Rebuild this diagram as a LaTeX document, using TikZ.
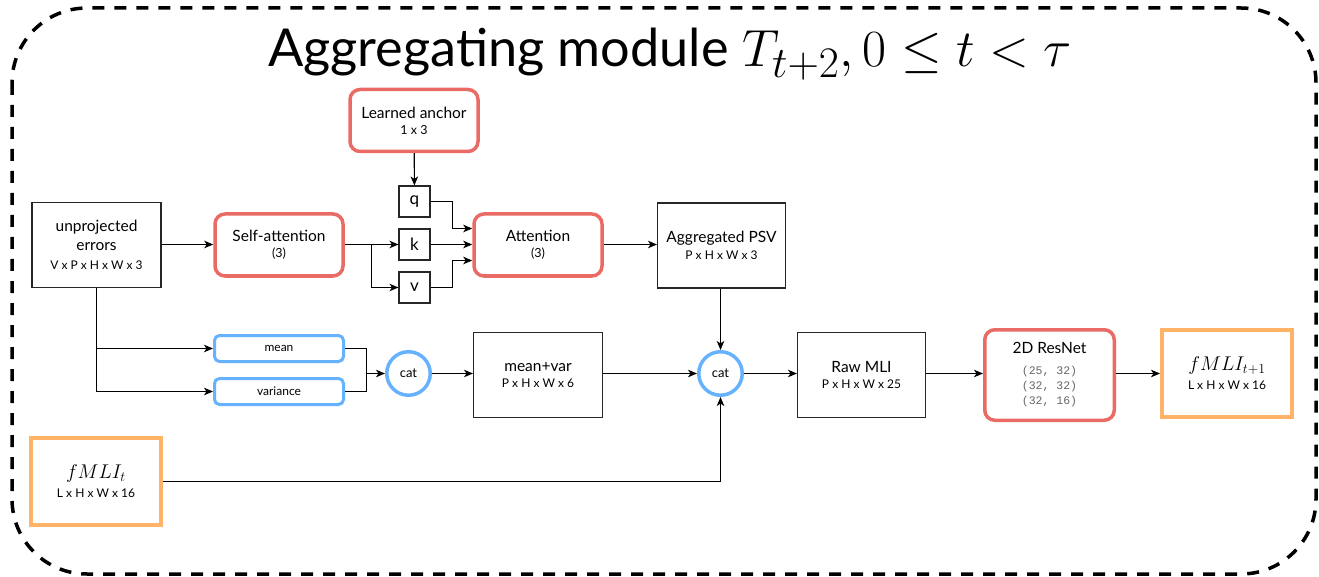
\documentclass[tikz,border=0pt]{standalone}
\usepackage{graphicx}
\usepackage{fontspec}
\setmainfont{Lato}
\setmonofont{Liberation Mono}
\usetikzlibrary{arrows.meta,calc}
\definecolor{redc}{HTML}{EA6B66}
\definecolor{bluec}{HTML}{66B2FF}
\definecolor{orangec}{HTML}{FFB366}
\definecolor{monoc}{HTML}{666666}
\newcommand\fsz[2]{\fontsize{#1}{#2}\selectfont}
\newcommand\smalldim[1]{{\fsz{12}{14}#1}}
\newcommand\tinydim[1]{{\fsz{12.5}{14}#1}}
\newcommand\monoline[1]{{\color{monoc}\ttfamily\fsz{11.5}{15}#1}}
\newcommand\bigmath[1]{\scalebox{1.15}{$#1$}}
\tikzset{
  plainbox/.style={draw=black!85, line width=1.1pt, inner sep=0pt, align=center, fill=white, font=\fsz{15.5}{18.5}},
  redbox/.style={draw=redc, line width=3.5pt, rounded corners=10pt, inner sep=0pt, align=center, minimum width=128pt, minimum height=62pt, font=\fsz{15.5}{16}},
  bluebox/.style={draw=bluec, line width=3pt, rounded corners=5pt, inner sep=0pt, minimum width=129pt, minimum height=26pt, font=\fsz{12}{14}},
  catnode/.style={draw=bluec, line width=3.5pt, circle, inner sep=0pt, minimum size=43.5pt, font=\fsz{13}{15}},
  orangebox/.style={draw=orangec, line width=4pt, inner sep=0pt, align=center, minimum width=130pt, minimum height=87pt, font=\fsz{17.28}{19}},
  letterbox/.style={draw=black!85, line width=1.1pt, inner sep=0pt, minimum size=31pt, font=\fsz{17}{20}},
  arr/.style={-{Stealth[length=9pt,width=7.5pt,inset=2.5pt]}, line width=1.1pt},
  conn/.style={line width=1.1pt},
  border/.style={draw=black, line width=3.5pt, dash pattern=on 12pt off 10pt, rounded corners=75pt}
}
\begin{document}
\begin{tikzpicture}[x=1pt,y=-1pt]
\useasboundingbox (0,0) rectangle (1319,577);
\draw[border] (12,8) rectangle (1316,574);

\node[anchor=base, font=\fsz{24.88}{30}, scale=2.1] (title) at (670,67) {Aggregating module $T_{t+2}, 0 \le t < \tau$};

\node[plainbox, minimum width=129pt, minimum height=85pt] (unp) at (96.5,245) {unprojected\\errors\\[1pt]\smalldim{V x P x H x W x 3}};
\node[redbox] (sa) at (279,245) {Self-attention\\\tinydim{(3)}};
\node[redbox] (anc) at (414,120.5) {Learned anchor\\\tinydim{1 x 3}};
\node[letterbox] (q) at (414.5,201.5) {q};
\node[letterbox] (k) at (414.5,244.5) {k};
\node[letterbox] (v) at (414.5,287.5) {v};
\node[redbox] (attn) at (538,245) {Attention\\\tinydim{(3)}};
\node[plainbox, font=\fsz{15.5}{16.5}, minimum width=128pt, minimum height=85pt] (psv) at (721.5,245.5) {Aggregated PSV\\\smalldim{P x H x W x 3}};

\node[bluebox] (mean) at (279,348.5) {mean};
\node[bluebox] (var) at (279,391.5) {variance};
\node[catnode] (cat1) at (408.5,373.5) {cat};
\node[plainbox, font=\fsz{15.5}{16.5}, minimum width=129pt, minimum height=85pt] (mv) at (538,375) {mean+var\\\smalldim{P x H x W x 6}};
\node[catnode] (cat2) at (720.5,373.5) {cat};
\node[plainbox, font=\fsz{15.5}{16.5}, minimum width=128pt, minimum height=85pt] (raw) at (861.5,375) {Raw MLI\\\smalldim{P x H x W x 25}};
\node[redbox, font=\fsz{15.5}{15}, minimum width=129.5pt, minimum height=90.5pt] (res) at (1049.5,375) {2D ResNet\\[6pt]\monoline{(25, 32)}\\\monoline{(32, 32)}\\\monoline{(32, 16)}};
\node[orangebox] (f1) at (1227,373.5) {\bigmath{fMLI_{t+1}}\\\smalldim{L x H x W x 16}};
\node[orangebox] (f0) at (96,481.5) {\bigmath{fMLI_{t}}\\\smalldim{L x H x W x 16}};

% connectors
\draw[arr] (unp.east |- k.west) -- (sa.west |- k.west);
\draw[arr] (sa.east |- k.west) -- (k.west);
\coordinate (j1) at (371.5,244.5);
\draw[arr] (j1) |- (v.west);
\draw[arr] (anc) -- (q);
\coordinate (jq) at (452.5,201.5);
\coordinate (jv) at (452.5,287.5);
\draw[arr] (q.east) -- (jq) |- ([yshift=16pt]attn.west |- k.west);
\draw[arr] (k) -- (attn.west |- k.west);
\draw[arr] (v.east) -- (jv) |- ([yshift=-16pt]attn.west |- k.west);
\draw[arr] (attn.east |- k.east) -- (psv.west |- k.east);
\draw[arr] (psv.south -| cat2.north) -- (cat2.north);

\draw[arr] (unp.south) |- (mean.west);
\draw[arr] (unp.south) |- (var.west);
\coordinate (j3) at (366.5,373.5);
\draw[conn] (mean.east) -| (j3);
\draw[conn] (var.east) -| (j3);
\draw[arr] (j3) -- (cat1.west);
\draw[arr] (cat1.east) -- (mv.west |- cat1.east);
\draw[arr] (mv.east |- cat2.west) -- (cat2.west);
\draw[arr] (cat2.east) -- (raw.west |- cat2.east);
\draw[arr] (raw.east |- cat2.east) -- (res.west |- cat2.east);
\draw[arr] (res.east |- f1.west) -- (f1.west);
\draw[arr] (f0.east) -| (cat2.south);
\end{tikzpicture}
\end{document}
